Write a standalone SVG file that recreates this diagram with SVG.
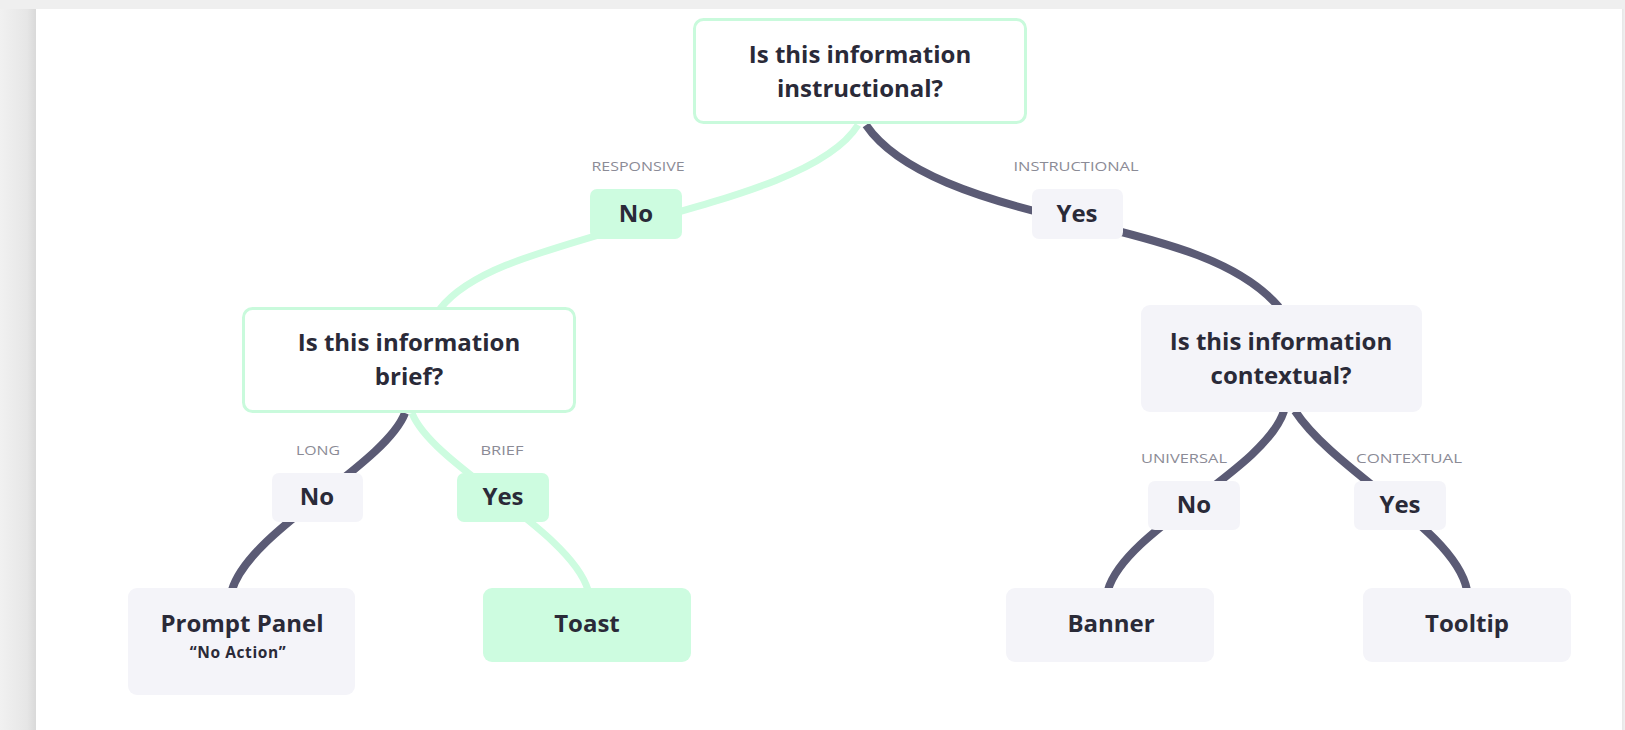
<svg xmlns="http://www.w3.org/2000/svg" width="1625" height="730" viewBox="0 0 1625 730">
  <defs>
    <linearGradient id="shadow" x1="0" y1="0" x2="1" y2="0">
      <stop offset="0" stop-color="#f1f1f1"/>
      <stop offset="0.75" stop-color="#e6e6e6"/>
      <stop offset="1" stop-color="#d9d9d9"/>
    </linearGradient>
    <style>
      .bg { fill: #efefef; }
      .panel { fill: #ffffff; }
      .q-green { fill: #ffffff; stroke: #c9fadc; stroke-width: 3; }
      .fill-green { fill: #cdfce0; }
      .fill-gray { fill: #f4f4f9; }
      .t { font-family: "Open Sans", "Liberation Sans", sans-serif; font-weight: 700; font-size: 24px; fill: #2a2a38; text-anchor: middle; }
      .sub { font-family: "Open Sans", "Liberation Sans", sans-serif; font-weight: 700; font-size: 15.5px; fill: #2a2a38; text-anchor: middle; letter-spacing: 0.6px; }
      .lbl { font-family: "Open Sans", "Liberation Sans", sans-serif; font-weight: 400; font-size: 12.5px; fill: #8b8b96; text-anchor: middle; }
      .c-dark { fill: none; stroke: #5b5b75; stroke-width: 8; }
      .c-green { fill: none; stroke: #cdfce0; stroke-width: 7; }
    </style>
  </defs>

  <!-- background frame -->
  <rect class="bg" x="0" y="0" width="1625" height="730"/>
  <rect x="0" y="9" width="36" height="721" fill="url(#shadow)"/>
  <rect class="panel" x="36" y="9" width="1586" height="721"/>
  <rect x="1622" y="9" width="1.5" height="721" fill="#e8e8e8"/>

  <!-- connectors -->
  <g id="connectors">
    <path class="c-green" d="M 858,125 C 830,170 740,195 636,224 C 540,252 470,270 440,309"/>
    <path class="c-dark" d="M 866,125 C 898,172 980,200 1077,221 C 1170,243 1240,262 1279,307"/>
    <path class="c-dark" d="M 405,413 C 385,465 250,530 232,590"/>
    <path class="c-green" d="M 412,413 C 432,465 570,530 588,590"/>
    <path class="c-dark" d="M 1284,411 C 1265,470 1125,530 1108,590"/>
    <path class="c-dark" d="M 1295,411 C 1335,472 1455,530 1467,590"/>
  </g>

  <!-- labels on branches -->
  <g id="branch-labels">
    <text class="lbl" x="638" y="171" textLength="93" lengthAdjust="spacingAndGlyphs">RESPONSIVE</text>
    <text class="lbl" x="1076" y="171" textLength="125" lengthAdjust="spacingAndGlyphs">INSTRUCTIONAL</text>
    <text class="lbl" x="318" y="455" textLength="44" lengthAdjust="spacingAndGlyphs">LONG</text>
    <text class="lbl" x="502" y="455" textLength="43" lengthAdjust="spacingAndGlyphs">BRIEF</text>
    <text class="lbl" x="1184" y="463" textLength="86" lengthAdjust="spacingAndGlyphs">UNIVERSAL</text>
    <text class="lbl" x="1409" y="463" textLength="106" lengthAdjust="spacingAndGlyphs">CONTEXTUAL</text>
  </g>

  <!-- root question -->
  <g id="q-instructional">
    <rect class="q-green" x="694.5" y="19.5" width="331" height="103" rx="9"/>
    <text class="t" x="860" y="63">Is this information</text>
    <text class="t" x="860" y="97">instructional?</text>
  </g>

  <g id="a-no-responsive">
    <rect class="fill-green" x="590" y="189" width="92" height="50" rx="7"/>
    <text class="t" x="636" y="222">No</text>
  </g>

  <g id="a-yes-instructional">
    <rect class="fill-gray" x="1032" y="189" width="91" height="50" rx="7"/>
    <text class="t" x="1077" y="222">Yes</text>
  </g>

  <g id="q-brief">
    <rect class="q-green" x="243.5" y="308.5" width="331" height="103" rx="9"/>
    <text class="t" x="409" y="351">Is this information</text>
    <text class="t" x="409" y="385">brief?</text>
  </g>

  <g id="q-contextual">
    <rect class="fill-gray" x="1141" y="305" width="281" height="107" rx="9"/>
    <text class="t" x="1281" y="350">Is this information</text>
    <text class="t" x="1281" y="384">contextual?</text>
  </g>

  <g id="a-no-long">
    <rect class="fill-gray" x="272" y="473" width="91" height="49" rx="7"/>
    <text class="t" x="317" y="505">No</text>
  </g>

  <g id="a-yes-brief">
    <rect class="fill-green" x="457" y="473" width="92" height="49" rx="7"/>
    <text class="t" x="503" y="505">Yes</text>
  </g>

  <g id="a-no-universal">
    <rect class="fill-gray" x="1148" y="481" width="92" height="49" rx="7"/>
    <text class="t" x="1194" y="513">No</text>
  </g>

  <g id="a-yes-contextual">
    <rect class="fill-gray" x="1354" y="481" width="92" height="49" rx="7"/>
    <text class="t" x="1400" y="513">Yes</text>
  </g>

  <g id="r-prompt-panel">
    <rect class="fill-gray" x="128" y="588" width="227" height="107" rx="9"/>
    <text class="t" x="242" y="632">Prompt Panel</text>
    <text class="sub" x="238" y="658">“No Action”</text>
  </g>

  <g id="r-toast">
    <rect class="fill-green" x="483" y="588" width="208" height="74" rx="9"/>
    <text class="t" x="587" y="632">Toast</text>
  </g>

  <g id="r-banner">
    <rect class="fill-gray" x="1006" y="588" width="208" height="74" rx="9"/>
    <text class="t" x="1111" y="632">Banner</text>
  </g>

  <g id="r-tooltip">
    <rect class="fill-gray" x="1363" y="588" width="208" height="74" rx="9"/>
    <text class="t" x="1467" y="632">Tooltip</text>
  </g>
</svg>
